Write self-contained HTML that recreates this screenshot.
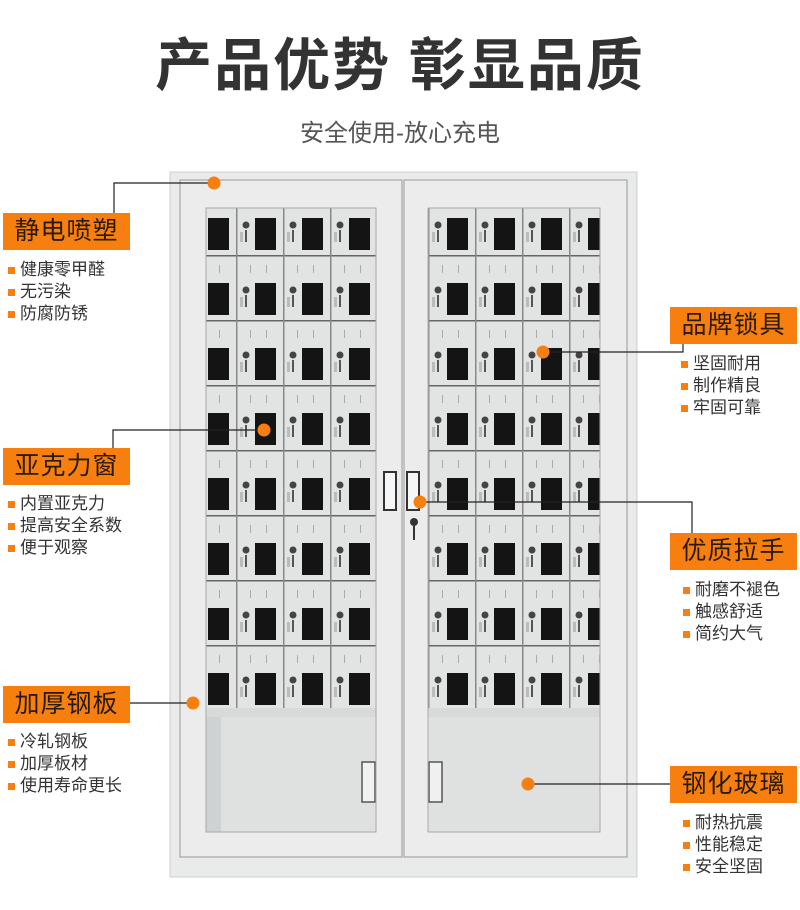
<!DOCTYPE html>
<html><head><meta charset="utf-8">
<style>
body{margin:0;background:#fff;}
#wrap{position:relative;width:800px;height:910px;overflow:hidden;background:#fff;font-family:"Liberation Sans","Noto Sans CJK SC",sans-serif;}
.t{position:absolute;white-space:nowrap;}
.box{position:absolute;background:#f77f0f;color:#2a1a0a;font-size:25px;line-height:37px;height:37px;width:127px;text-align:center;letter-spacing:1px;}
.ul{position:absolute;font-size:17px;line-height:22px;color:#333;}
.ul div{position:relative;padding-left:12px;}
.ul div:before{content:"";position:absolute;left:0;top:8px;width:7px;height:7px;background:#f77f0f;}
</style></head><body>
<div id="wrap">
<div class="t" style="left:0;width:800px;top:31px;text-align:center;font-size:57px;font-weight:bold;color:#333;line-height:70px;letter-spacing:2px;">产品优势 彰显品质</div>
<div class="t" style="left:0;width:800px;top:117px;text-align:center;font-size:24px;color:#555;line-height:34px;">安全使用-放心充电</div>

<svg style="position:absolute;left:0;top:0" width="800" height="910">
<defs>
<pattern id="pl" x="189" y="190" width="47" height="65" patternUnits="userSpaceOnUse">
<rect width="47" height="65" fill="#e2e3e3"/>
<rect x="0" y="0" width="47" height="1.5" fill="#666"/>
<rect x="0" y="0" width="1.5" height="65" fill="#888"/>
<rect x="19" y="28" width="21" height="32" fill="#141414"/>
<circle cx="10" cy="35" r="3.5" fill="#444"/>
<rect x="9" y="40" width="2" height="12" fill="#555"/>
<rect x="4" y="42" width="3" height="10" fill="#bbb"/>
<rect x="14" y="10" width="1" height="8" fill="#aaa"/><rect x="30" y="10" width="1" height="8" fill="#aaa"/>
</pattern>
<pattern id="pr" x="428" y="190" width="47" height="65" patternUnits="userSpaceOnUse">
<rect width="47" height="65" fill="#e2e3e3"/>
<rect x="0" y="0" width="47" height="1.5" fill="#666"/>
<rect x="0" y="0" width="1.5" height="65" fill="#888"/>
<rect x="19" y="28" width="21" height="32" fill="#141414"/>
<circle cx="10" cy="35" r="3.5" fill="#444"/>
<rect x="9" y="40" width="2" height="12" fill="#555"/>
<rect x="4" y="42" width="3" height="10" fill="#bbb"/>
<rect x="14" y="10" width="1" height="8" fill="#aaa"/><rect x="30" y="10" width="1" height="8" fill="#aaa"/>
</pattern>
</defs>
<rect x="170" y="172" width="467" height="705" fill="#e9eaea" stroke="#cfcfcf"/>
<rect x="180" y="180" width="222" height="677" fill="#ececec" stroke="#999" stroke-width="1"/>
<rect x="404" y="180" width="223" height="677" fill="#ececec" stroke="#999" stroke-width="1"/>
<rect x="206" y="208" width="170" height="500" fill="url(#pl)"/>
<rect x="206" y="708" width="170" height="9" fill="#d8d9d9"/>
<rect x="206" y="717" width="170" height="115" fill="#dfe1e1"/>
<rect x="206" y="717" width="15" height="115" fill="#cfd2d2"/>
<rect x="362" y="762" width="13" height="40" fill="#f0f0f0" stroke="#555" stroke-width="1.5"/>
<rect x="206" y="208" width="170" height="624" fill="none" stroke="#aaa"/>
<rect x="428" y="208" width="172" height="500" fill="url(#pr)"/>
<rect x="428" y="708" width="172" height="9" fill="#d8d9d9"/>
<rect x="428" y="717" width="172" height="115" fill="#dfe1e1"/>
<rect x="429" y="762" width="13" height="40" fill="#f0f0f0" stroke="#555" stroke-width="1.5"/>
<rect x="428" y="208" width="172" height="624" fill="none" stroke="#aaa"/>
<rect x="384" y="472" width="12" height="38" fill="#f4f6f8" stroke="#333" stroke-width="2"/>
<rect x="407" y="472" width="12" height="38" fill="#f4f6f8" stroke="#333" stroke-width="2"/>
<circle cx="414" cy="522" r="4" fill="#333"/>
<rect x="413" y="526" width="2" height="14" fill="#333"/>
<g stroke="#222" stroke-width="1.2" fill="none">
<polyline points="114,213 114,183 214,183"/>
<polyline points="543,352 683,352 683,343"/>
<polyline points="113,448 113,430 264,430"/>
<polyline points="420,502 692,502 692,533"/>
<line x1="130" y1="703" x2="193" y2="703"/>
<line x1="528" y1="784" x2="670" y2="784"/>
</g>
<g fill="#f77f0f">
<circle cx="214" cy="183" r="6.5"/>
<circle cx="543" cy="352" r="6.5"/>
<circle cx="264" cy="430" r="6.5"/>
<circle cx="420" cy="502" r="6.5"/>
<circle cx="193" cy="703" r="6.5"/>
<circle cx="528" cy="784" r="6.5"/>
</g>
</svg>

<div class="box" style="left:3px;top:213px;">静电喷塑</div>
<div class="ul" style="left:8px;top:259px;"><div>健康零甲醛</div><div>无污染</div><div>防腐防锈</div></div>

<div class="box" style="left:670px;top:307px;">品牌锁具</div>
<div class="ul" style="left:681px;top:353px;"><div>坚固耐用</div><div>制作精良</div><div>牢固可靠</div></div>

<div class="box" style="left:3px;top:448px;">亚克力窗</div>
<div class="ul" style="left:8px;top:493px;"><div>内置亚克力</div><div>提高安全系数</div><div>便于观察</div></div>

<div class="box" style="left:670px;top:533px;">优质拉手</div>
<div class="ul" style="left:683px;top:579px;"><div>耐磨不褪色</div><div>触感舒适</div><div>简约大气</div></div>

<div class="box" style="left:3px;top:686px;">加厚钢板</div>
<div class="ul" style="left:8px;top:731px;"><div>冷轧钢板</div><div>加厚板材</div><div>使用寿命更长</div></div>

<div class="box" style="left:670px;top:766px;">钢化玻璃</div>
<div class="ul" style="left:683px;top:812px;"><div>耐热抗震</div><div>性能稳定</div><div>安全坚固</div></div>
</div>
</body></html>
